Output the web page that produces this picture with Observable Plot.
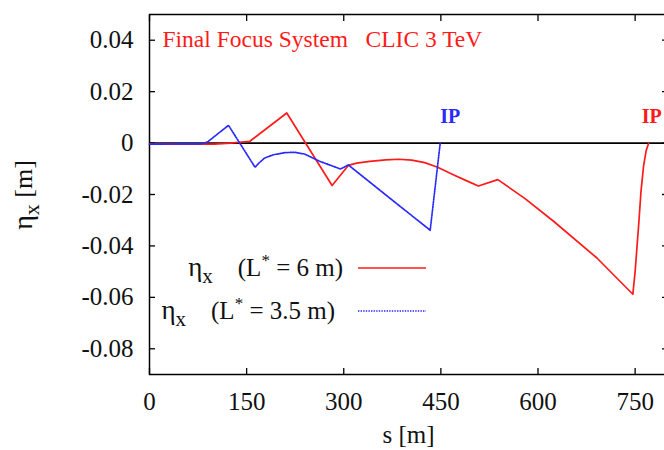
<!DOCTYPE html>
<html>
<head>
<meta charset="utf-8">
<script src="https://cdn.jsdelivr.net/npm/d3@7"></script>
<script src="https://cdn.jsdelivr.net/npm/@observablehq/plot@0.6"></script>
<style>
  html, body { margin: 0; padding: 0; overflow: hidden; background: #fff; }
  #chart { width: 667px; height: 450px; }
</style>
</head>
<body>
<div id="chart"></div>
<script>
// Horizontal dispersion along the CLIC 3 TeV final focus, two L* options.
const sL6 = [0, 100, 125, 155, 212, 282, 307, 320, 340, 365, 385, 405, 425, 445, 470, 490, 508, 538, 580, 624, 691, 746.5, 750, 753, 756, 759, 763, 767, 771];
const etaL6 = [-0.0004, -0.0004, 0.0000, 0.0007, 0.0117, -0.0165, -0.0087, -0.0078, -0.0071, -0.0065, -0.0063, -0.0066, -0.0076, -0.0094, -0.0124, -0.0147, -0.0167, -0.0142, -0.0216, -0.0304, -0.0447, -0.0588, -0.0500, -0.0400, -0.0300, -0.0190, -0.0090, -0.0030, 0.0000];

const sL35 = [0, 80, 90, 122, 163, 170, 178, 192, 210, 225, 240, 262, 295, 307, 370, 433.5, 449];
const etaL35 = [-0.0004, -0.0003, 0.0005, 0.0069, -0.0094, -0.0075, -0.0058, -0.0045, -0.0037, -0.0036, -0.0043, -0.0070, -0.0101, -0.0085, -0.0212, -0.0339, 0.0000];

const xTicks = [0, 150, 300, 450, 600, 750];
const yTicks = [-0.08, -0.06, -0.04, -0.02, 0, 0.02, 0.04];

const titleText = "Final Focus System   CLIC 3 TeV";
const xLabel = "s [m]";
const ipLabel = "IP";
const seriesNames = ["6 m", "3.5 m"];
const seriesColors = ["#ff1a1a", "#2a2aff"];

const L6 = sL6.map((s, i) => ({s, eta: etaL6[i]}));
const L35 = sL35.map((s, i) => ({s, eta: etaL35[i]}));

const ff = '"Liberation Serif", serif';
const fmtY = d => d === 0 ? "0" : d.toFixed(2);

const plot = Plot.plot({
  width: 667,
  height: 450,
  marginLeft: 149,
  marginRight: 0,
  marginTop: 14,
  marginBottom: 76,
  style: {fontFamily: ff, fontSize: "25px"},
  x: {domain: [0, 800], axis: null, label: null},
  y: {domain: [-0.09, 0.05], axis: null, label: null},
  marks: [
    Plot.ruleY([0], {stroke: "#000", strokeWidth: 1.7}),
    // inward tick marks on all four sides
    Plot.axisX(xTicks, {anchor: "bottom", tickSize: 6, dy: -6, fill: "none", label: null, strokeWidth: 1.3}),
    Plot.axisX(xTicks, {anchor: "top", tickSize: 6, dy: 6, fill: "none", label: null, strokeWidth: 1.3}),
    Plot.axisY(yTicks, {anchor: "left", tickSize: 6, dx: 6, fill: "none", label: null, strokeWidth: 1.3}),
    Plot.axisY(yTicks, {anchor: "right", tickSize: 6, dx: -6, fill: "none", label: null, strokeWidth: 1.3}),
    // tick labels
    Plot.axisX(xTicks, {anchor: "bottom", tickSize: 0, tickPadding: 18, stroke: "none", fill: "#111", label: null, fontSize: 25}),
    Plot.axisY(yTicks, {anchor: "left", tickSize: 0, tickPadding: 16, stroke: "none", fill: "#111", label: null, tickFormat: fmtY, fontSize: 25}),
    Plot.frame({stroke: "#000", strokeWidth: 1.5}),
    Plot.line(L6, {x: "s", y: "eta", stroke: seriesColors[0], strokeWidth: 1.7}),
    Plot.line(L35, {x: "s", y: "eta", stroke: seriesColors[1], strokeWidth: 1.7, strokeDasharray: "1.4,1.2"}),
    // IP markers at the end of each line
    Plot.text([L35[L35.length - 1]], {x: "s", y: "eta", text: () => ipLabel, fill: seriesColors[1], textAnchor: "start", dx: 0, dy: -26, fontSize: 20, fontWeight: "bold"}),
    Plot.text([L6[L6.length - 1]], {x: "s", y: "eta", text: () => ipLabel, fill: seriesColors[0], textAnchor: "start", dx: -7, dy: -26, fontSize: 20, fontWeight: "bold"}),
    Plot.text([titleText], {frameAnchor: "top-left", text: d => d, textAnchor: "start", lineAnchor: "middle", dx: 13, dy: 25, fill: "#ff1a1a", fontSize: 23.5}),
    Plot.text([xLabel], {frameAnchor: "bottom", text: d => d, lineAnchor: "middle", dy: 60, fill: "#111", fontSize: 25})
  ]
});

document.getElementById("chart").appendChild(plot);

// Labels with sub/superscripts (η_x, L*) are built with tspans.
const svg = d3.select(plot);

function etaX(textSel, size) {
  textSel.append("tspan").attr("font-size", size * 1.08).text("η");
  textSel.append("tspan").attr("font-size", size * 0.84).attr("dy", size * 0.28).text("x");
}

// y-axis label
const yl = svg.append("text")
  .attr("transform", "translate(32,195) rotate(-90)")
  .attr("text-anchor", "middle")
  .attr("font-size", 26).attr("fill", "#111");
etaX(yl, 26);
yl.append("tspan").attr("dy", -26 * 0.28).text(" [m]");

// legend: right-justified key text followed by a line sample
const legendRows = [{y: 268, right: 343, name: seriesNames[0]}, {y: 311, right: 335, name: seriesNames[1]}];
legendRows.forEach((r, i) => {
  const t = svg.append("text")
    .attr("x", r.right).attr("y", r.y + 8)
    .attr("text-anchor", "end")
    .attr("font-size", 25).attr("fill", "#111");
  etaX(t, 25);
  t.append("tspan").attr("dy", -25 * 0.28).text("\u2002\u2002(L");
  t.append("tspan").attr("font-size", 17).attr("dy", -10).text("*");
  t.append("tspan").attr("dy", 10).text(" = " + r.name + ")");
  svg.append("line")
    .attr("x1", 358).attr("x2", 426).attr("y1", r.y).attr("y2", r.y)
    .attr("stroke", seriesColors[i]).attr("stroke-width", 1.7)
    .attr("stroke-dasharray", i === 1 ? "1.4,1.2" : null);
});
</script>
</body>
</html>
